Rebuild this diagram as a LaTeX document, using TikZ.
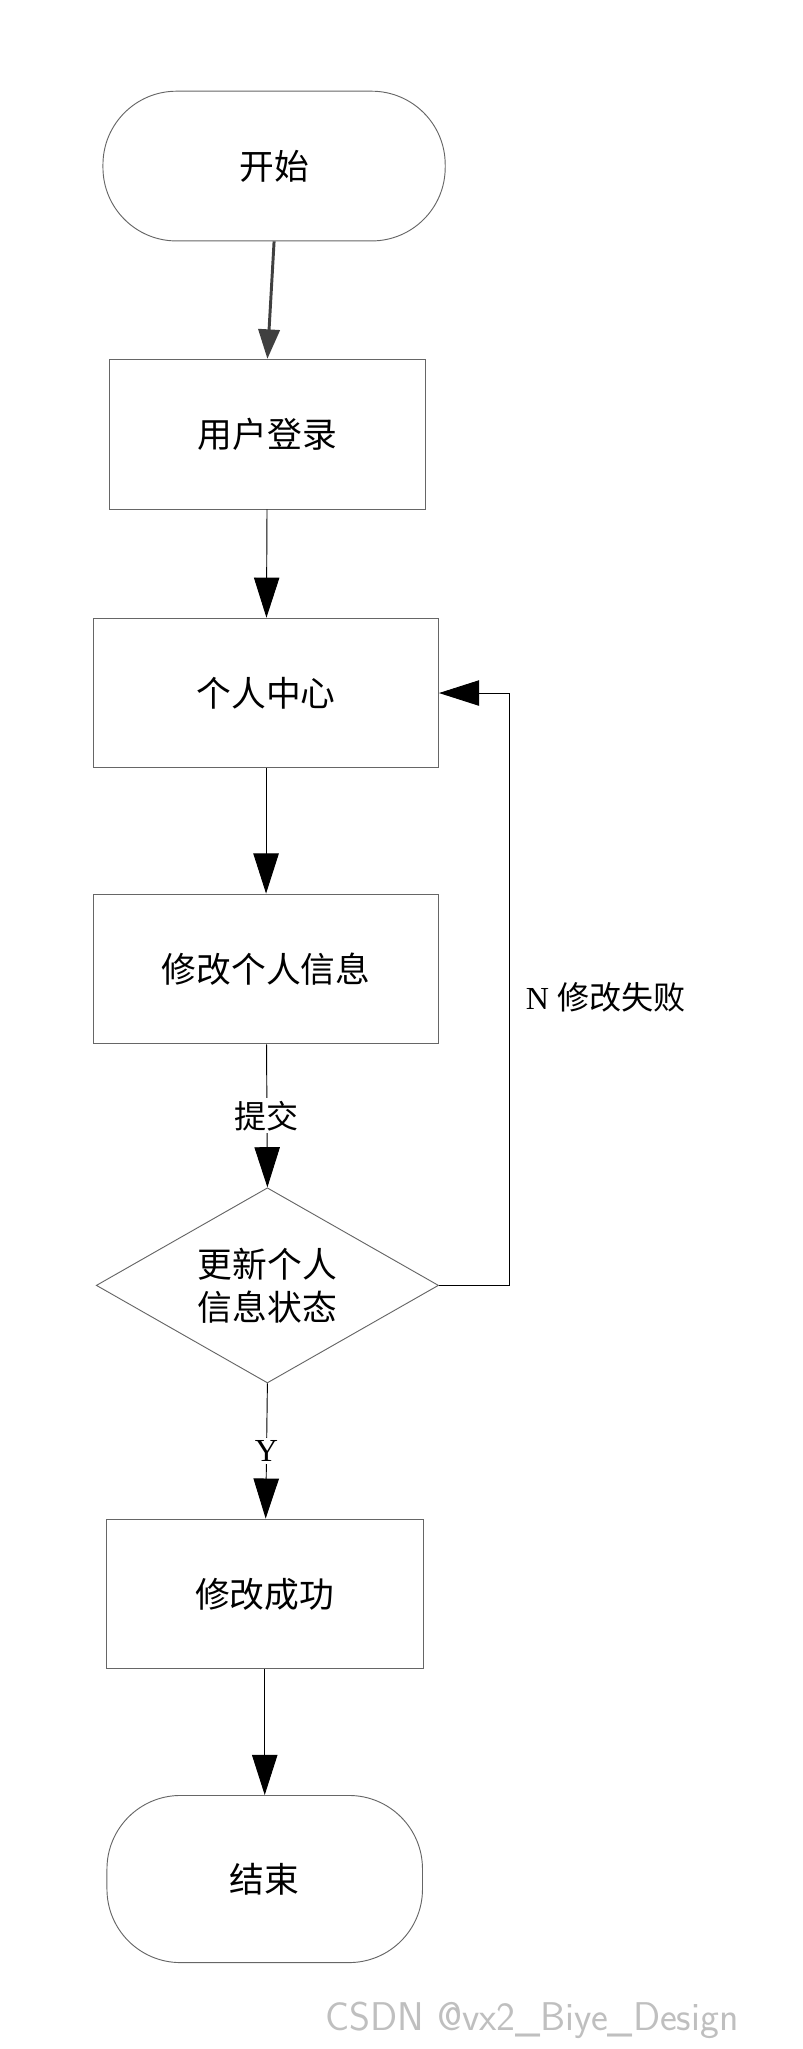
\documentclass[tikz,border=0pt]{standalone}
\usepackage{fontspec}
\newfontfamily\cjk{Noto Sans CJK SC}
\setmainfont{Liberation Serif}
\usetikzlibrary{shapes.geometric,arrows.meta}
\begin{document}
\begin{tikzpicture}[x=1pt,y=-0.978pt,
  box/.style={draw=black!60,line width=0.7pt,minimum width=#1,minimum height=112pt,font=\cjk\fontsize{26}{30}\selectfont},
  term/.style={draw=black!60,line width=0.7pt,rounded corners=55pt,minimum width=#1,font=\cjk\fontsize{26}{30}\selectfont},
  arr/.style={line width=0.7pt,-{Triangle[length=30pt,width=19pt]}},
  lab/.style={font=\cjk\fontsize{24}{28}\selectfont,fill=white,inner sep=2pt}]
\useasboundingbox (0,0) rectangle (600,1567);
\node[term=256pt,minimum height=112pt] (start) at (205,127) {开始};
\node[box=236pt] (login) at (200,332) {用户登录};
\node[box=258pt] (center) at (199,530) {个人中心};
\node[box=258pt] (edit) at (199,741) {修改个人信息};
\node[diamond,draw=black!60,line width=0.7pt,minimum width=256pt,minimum height=146pt,aspect=1.75,inner sep=0pt,align=center,font=\cjk\fontsize{26}{32}\selectfont] (dec) at (200,983) {更新个人\\信息状态};
\node[box=237pt] (ok) at (198,1219) {修改成功};
\node[term=236pt,minimum height=125pt] (end) at (198,1437) {结束};
\coordinate (c1) at (381,983);
\coordinate (c2) at (381,530);
\draw[line width=2.2pt,black!75,-{Triangle[length=22pt,width=16pt]}] (start.south) -- (login.north);
\draw[arr] (login) -- (center);
\draw[arr] (center) -- (edit);
\draw[arr] (edit) -- node[lab,pos=0.5]{提交} (dec.north);
\draw[arr] (dec.south) -- node[lab,pos=0.5,font=\fontsize{24}{28}\selectfont]{Y} (ok);
\draw[arr] (ok) -- (end);
\draw[arr] (dec.east) -- (c1) -- (c2) -- (center.east);
\node[lab,font=\fontsize{24}{28}\selectfont] (nl) at (453,763) {N {\cjk 修改失败}};
\node[font=\fontsize{30}{34}\selectfont\sffamily,text=black!25] (wm) at (398,1545) {CSDN @vx2\_Biye\_Design};
\end{tikzpicture}
\end{document}
